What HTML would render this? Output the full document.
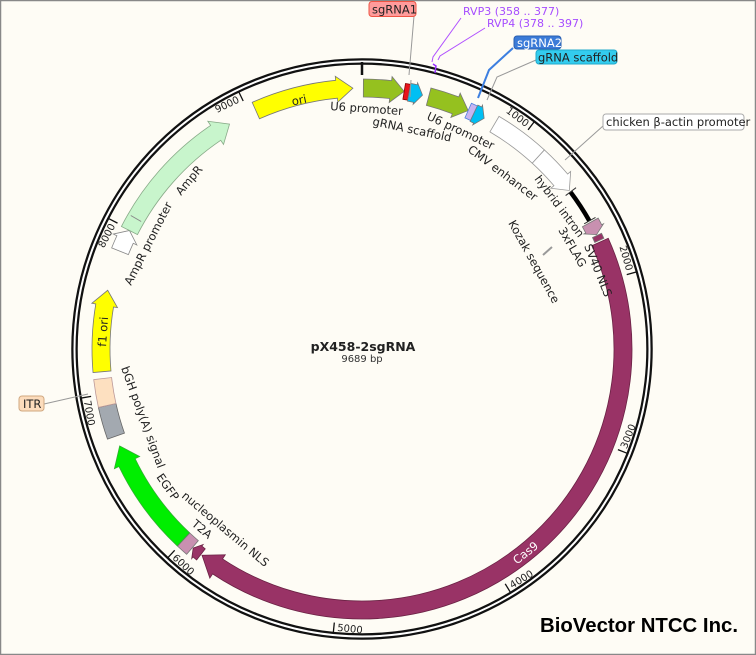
<!DOCTYPE html>
<html><head><meta charset="utf-8"><style>
html,body{margin:0;padding:0;background:#fefcf5;}
svg{display:block;}
text{font-family:"DejaVu Sans","Liberation Sans",sans-serif;fill:#222;}
</style></head><body>
<svg id="s" width="756" height="655" viewBox="0 0 756 655" xmlns="http://www.w3.org/2000/svg">
<rect x="0.5" y="0.5" width="755" height="654" fill="#fefcf5" stroke="#888" stroke-width="1.5"/>
<g id="shapes"></g>
<circle cx="362" cy="349" r="287.5" fill="none" stroke="#111" stroke-width="6.5"/>
<circle cx="362" cy="349" r="287.5" fill="none" stroke="#fff" stroke-width="2"/>
<line x1="362" y1="62" x2="362" y2="75" stroke="#111" stroke-width="2.5"/>
<g id="ticks"></g>
<g id="tl" font-size="10">
<text id="t1">1000</text><text id="t2">2000</text><text id="t3">3000</text><text id="t4">4000</text><text id="t5">5000</text><text id="t6">6000</text><text id="t7">7000</text><text id="t8">8000</text><text id="t9">9000</text>
</g>

<g fill="none" stroke-width="1">
<polyline points="414,16 409,75" stroke="#999"/>
<polyline points="411,80 410,97" stroke="#999"/>
<polyline points="461,18 433,57 432,62" stroke="#b050ff"/>
<polyline points="485,28 440,56 438,60" stroke="#b050ff"/>
<polyline points="433,64 436,66 435,73" stroke="#9a30ff" stroke-width="1.5"/>
<polyline points="513,48 489,70 478,98" stroke="#3d7fe0" stroke-width="2"/>
<polyline points="536,60 497,77 487,100" stroke="#999"/>
<polyline points="603,126 565,160" stroke="#999"/>
<polyline points="44,404 88,394" stroke="#999"/>
<polyline points="543,255 552,247" stroke="#999" stroke-width="2"/>
</g>

<rect x="369" y="1.5" width="47" height="15" rx="3" fill="#ff9b9b" stroke="#e54" />
<text x="372" y="13.5" font-size="11.5">sgRNA1</text>
<text x="463" y="15" font-size="11" style="fill:#a64cff">RVP3  (358 .. 377)</text>
<text x="487" y="27" font-size="11" style="fill:#a64cff">RVP4  (378 .. 397)</text>
<rect x="514" y="36" width="47" height="13" rx="3" fill="#3b7bd8" stroke="#2a5fb0"/>
<text x="517" y="47" font-size="11.5" style="fill:#fff">sgRNA2</text>
<rect x="536" y="50" width="81" height="14" rx="3" fill="#33ccee" stroke="#22aacc"/>
<text x="538" y="61.5" font-size="11.5">gRNA scaffold</text>
<rect x="603" y="114" width="141" height="16" rx="3" fill="#fff" stroke="#aaa"/>
<text x="606" y="126" font-size="11.5">chicken β-actin promoter</text>
<rect x="19" y="396" width="25" height="15" rx="3" fill="#fcdcbc" stroke="#d0a880"/>
<text x="23" y="408" font-size="11.5">ITR</text>

<g font-size="11.5">
<text transform="translate(330,110) rotate(4)">U6 promoter</text>
<text transform="translate(372,125) rotate(12)">gRNA scaffold</text>
<text transform="translate(426,119) rotate(25)">U6 promoter</text>
<text transform="translate(467,151) rotate(37)">CMV enhancer</text>
<text transform="translate(534,179) rotate(53)">hybrid intron</text>
<text transform="translate(558,230) rotate(60)">3xFLAG</text>
<text transform="translate(508,223) rotate(61)">Kozak sequence</text>
<text transform="translate(584,246) rotate(68)">SV40 NLS</text>
<text transform="translate(121,368) rotate(70)">bGH poly(A) signal</text>
<text transform="translate(156,477) rotate(55)">EGFP</text>
<text transform="translate(181,497) rotate(40)">nucleoplasmin NLS</text>
<text transform="translate(191,525) rotate(40)">T2A</text>
<text transform="translate(131,286) rotate(-63)">AmpR promoter</text>
<text transform="translate(181,196) rotate(-50)">AmpR</text>
<text transform="translate(300,104) rotate(-12)" text-anchor="middle">ori</text>
<text transform="translate(107,332) rotate(-86)" text-anchor="middle">f1 ori</text>
<text transform="translate(528,556) rotate(-38)" text-anchor="middle" style="fill:#fff">Cas9</text>
</g>

<text x="363" y="351" font-size="12.5" font-weight="bold" text-anchor="middle">pX458-2sgRNA</text>
<text x="362" y="362" font-size="10" text-anchor="middle" style="fill:#333">9689 bp</text>
<text x="540" y="632" font-size="20" font-weight="bold" textLength="198" lengthAdjust="spacingAndGlyphs" style="font-family:'Liberation Sans',sans-serif;fill:#000">BioVector NTCC Inc.</text>
</svg>
<script>
var cx=362,cy=349,NS="http://www.w3.org/2000/svg";
function P(a,r){var t=a*Math.PI/180;return [(cx+r*Math.sin(t)).toFixed(2),(cy-r*Math.cos(t)).toFixed(2)];}
function S(p){return p[0]+","+p[1];}
function feat(a1,a2,ri,ro,h,e,fill,stroke){
  var b=a2-h, large=(b-a1)>180?1:0, d;
  d="M"+S(P(a1,ro))+" A"+ro+","+ro+" 0 "+large+" 1 "+S(P(b,ro));
  if(h>0){d+=" L"+S(P(b,ro+e))+" L"+S(P(a2,(ri+ro)/2))+" L"+S(P(b,ri-e))+" L"+S(P(b,ri));}
  else{d+=" L"+S(P(b,ri));}
  d+=" A"+ri+","+ri+" 0 "+large+" 0 "+S(P(a1,ri))+" Z";
  var el=document.createElementNS(NS,"path");
  el.setAttribute("d",d);el.setAttribute("fill",fill);el.setAttribute("stroke",stroke||"#777");el.setAttribute("stroke-width","0.8");
  document.getElementById("shapes").appendChild(el);
}
function line(a,r1,r2,w,c,g){var p=P(a,r1),q=P(a,r2);var el=document.createElementNS(NS,"line");
 el.setAttribute("x1",p[0]);el.setAttribute("y1",p[1]);el.setAttribute("x2",q[0]);el.setAttribute("y2",q[1]);
 el.setAttribute("stroke",c);el.setAttribute("stroke-width",w);document.getElementById(g||"shapes").appendChild(el);}
var R1=252,R2=270;
feat(336,358,R1,R2,3.6,4,"#ffff00");
feat(0.3,9.3,R1,R2,3,4,"#95c11f");
feat(9.3,10.4,R1+1,R2-1,0,0,"#e8141b","#800");
feat(10.4,13.4,R1,R2,1.6,2,"#00bff3");
feat(14.8,24,R1,R2,3,4,"#95c11f");
feat(24,25.4,R1+1,R2-1,0,0,"#c8b4f0","#4a7fe0");
feat(25.4,27.9,R1,R2,1.6,2,"#00bff3");
feat(30.5,42.5,R1,R2,0,0,"#fff","#999");
feat(42.5,52.6,R1,R2,3,4,"#fff","#999");
(function(){var a1=53,a2=60.6,r=261,p=P(a1,r),q=P(a2,r);var el=document.createElementNS(NS,"path");
 el.setAttribute("d","M"+S(p)+" A"+r+","+r+" 0 0 1 "+S(q));el.setAttribute("fill","none");el.setAttribute("stroke","#000");el.setAttribute("stroke-width","4.5");
 document.getElementById("shapes").appendChild(el);line(a1,255,268,1,"#333");line(a2,255,268,1,"#333");})();
feat(61,64,R1,R2,1.4,2,"#c890b0");
feat(64.2,65.4,256,266,0,0,"#993366");
feat(65.8,217.8,R1,R2,4.2,5,"#993366","#6a2244");
feat(218.1,220.3,254,268,1.2,2,"#993366","#6a2244");
feat(220.5,223.1,R1,R2,0,0,"#c890b0");
feat(223.2,248.2,R1,R2,4,5,"#00ee00","#3a3");
feat(250.5,257.5,R1,R2,0,0,"#a3a9b0","#666");
feat(257.5,263.5,R1,R2,0,0,"#fde0c0","#b99");
feat(265,283,R1,R2,3.4,4,"#ffff00");
feat(292,297,R1,R2,2.2,4,"#fff","#888");
feat(297,329.5,R1,R2,3.6,5,"#c8f5cc","#8a8");
line(300,255,267,1,"#888");
for(var k=1;k<=9;k++){var a=k*1000/9689*360;line(a,285,275,1.3,"#111","ticks");
 var t=document.getElementById("t"+k),p,rot,anc;
 if(a>90&&a<270){rot=a-180;p=P(a-0.7,283);anc="start";}
 else{rot=a;p=P(a-0.7,275.5);anc="end";}
 t.setAttribute("transform","translate("+p[0]+","+p[1]+") rotate("+rot.toFixed(1)+")");t.setAttribute("text-anchor",anc);}
</script>
</body></html>
